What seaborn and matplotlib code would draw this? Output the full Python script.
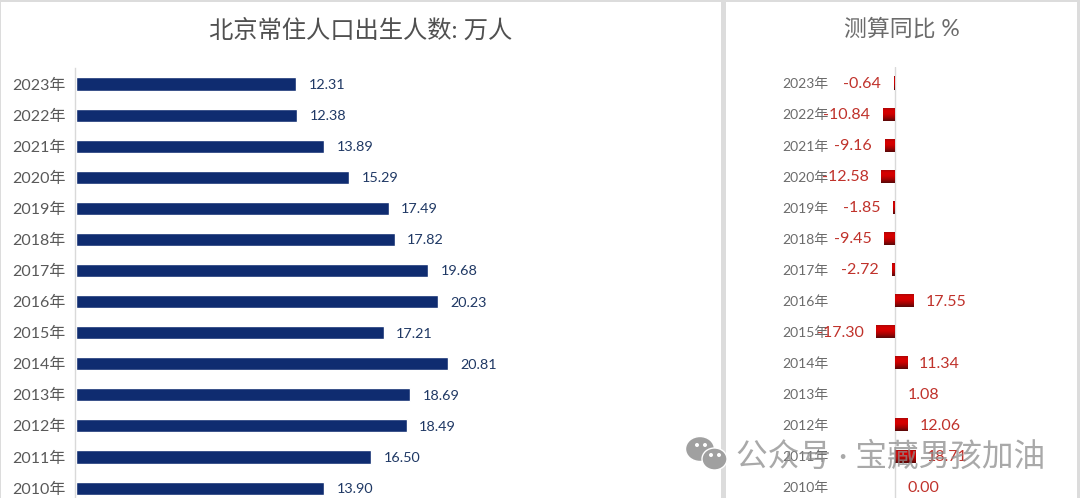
import numpy as np
import pandas as pd
import matplotlib
matplotlib.use("Agg")
import matplotlib.pyplot as plt
from matplotlib.patches import Rectangle, Ellipse
from matplotlib.colors import LinearSegmentedColormap
import seaborn as sns

years = ["2023年", "2022年", "2021年", "2020年", "2019年", "2018年", "2017年",
         "2016年", "2015年", "2014年", "2013年", "2012年", "2011年", "2010年"]
births = [12.31, 12.38, 13.89, 15.29, 17.49, 17.82, 19.68,
          20.23, 17.21, 20.81, 18.69, 18.49, 16.50, 13.90]
yoy = [-0.64, -10.84, -9.16, -12.58, -1.85, -9.45, -2.72,
       17.55, -17.30, 11.34, 1.08, 12.06, 18.71, 0.00]

W, H = 1080, 498

sns.set_theme(style="white")
plt.rcParams["font.family"] = ["Lato", "Noto Sans CJK SC", "DejaVu Sans"]


def box(x0, y0, x1, y1):
    # pixel box (y from the top) to figure fractions
    return [x0 / W, 1 - y1 / H, (x1 - x0) / W, (y1 - y0) / H]


fig = plt.figure(figsize=(W / 100, H / 100), dpi=100, facecolor="#dcdcdc")

# white cards behind the two charts
for x0, x1 in [(1, 721), (726, 1077)]:
    b = box(x0, 2, x1, H)
    fig.add_artist(Rectangle((b[0], b[1]), b[2], b[3], transform=fig.transFigure,
                             facecolor="white", edgecolor="none", zorder=-1))

df = pd.DataFrame({"year": years, "births": births, "yoy": yoy})

# left chart
ax1 = fig.add_axes(box(75, 68, 721, H))
ax1.patch.set_alpha(0)
sns.barplot(data=df, y="year", x="births", color="#0f2c70", width=0.42,
            saturation=1, ax=ax1)
ax1.set_xlim(-0.03, 646 / 17.92)
ax1.set_ylim(13.32, -0.515)
labels1 = ax1.bar_label(ax1.containers[0], fmt="%.2f", padding=9, fontsize=10.4, color="#1f3864")
for t in labels1:
    t.xyann = (t.xyann[0], t.xyann[1] - 0.7)
ax1.set_xlabel("")
ax1.set_ylabel("")
ax1.set_xticks([])
ax1.tick_params(axis="y", length=0, pad=7, labelsize=11.5, labelcolor="#595959")
sns.despine(ax=ax1, left=False, bottom=True)
ax1.spines["left"].set_color("#d9d9d9")
ax1.spines["left"].set_linewidth(1)

# right chart, year labels sit left of the plot area
ax2 = fig.add_axes(box(830, 67, 1077, H))
ax2.patch.set_alpha(0)
sns.barplot(data=df, y="year", x="yoy", color="#c00000", width=0.42,
            saturation=1, ax=ax2)
xlim2 = (-64.5 / 1.07, 182.5 / 1.07)
ylim2 = (13.35, -0.515)
ax2.set_xlim(*xlim2)
ax2.set_ylim(*ylim2)
labels2 = ax2.bar_label(ax2.containers[0], fmt="%.2f", padding=9, fontsize=11.5, color="#c0322b")
for t in labels2:
    t.xyann = (t.xyann[0], t.xyann[1] - 0.7)
ax2.axvline(0, color="#d9d9d9", lw=1, zorder=1)
ax2.set_xlabel("")
ax2.set_ylabel("")
ax2.set_xticks([])
ax2.tick_params(axis="y", length=0, pad=1, labelsize=10, labelcolor="#6b6b6b")
sns.despine(ax=ax2, left=True, bottom=True)

# gradient fill for the red bars
red_grad = LinearSegmentedColormap.from_list(
    "red_grad", ["#a00808", "#d80000", "#d00000", "#a00303", "#5a0808"])
grad = np.linspace(0, 1, 32).reshape(-1, 1)
for bar in ax2.containers[0]:
    w = bar.get_width()
    if w == 0:
        continue
    # the 2013 bar does not show in the original
    if 0 < w < 2:
        bar.set_visible(False)
        continue
    bx0, by0 = bar.get_xy()
    im = ax2.imshow(grad, cmap=red_grad, aspect="auto", zorder=2, interpolation="bilinear",
                    extent=[bx0, bx0 + w, by0 + bar.get_height(), by0])
    im.set_clip_path(bar)
ax2.set_xlim(*xlim2)
ax2.set_ylim(*ylim2)

# titles
fig.text(360.5 / W, 1 - 30 / H, "北京常住人口出生人数: 万人", ha="center", va="center",
         fontsize=17.5, color="#505050")
fig.text(902 / W, 1 - 29 / H, "测算同比 %", ha="center", va="center",
         fontsize=16.5, color="#6b6b6b")

# watermark
fig.text(735.5 / W, 1 - 457 / H, "公众号 · 宝藏男孩加油", ha="left", va="center",
         fontsize=22.8, color="#8c8c8c", alpha=0.75, zorder=10)
for cx, cy, ew, eh in [(700, 449, 29, 25), (714.5, 459, 25, 22)]:
    fig.add_artist(Ellipse((cx / W, 1 - cy / H), ew / W, eh / H, transform=fig.transFigure,
                           facecolor="#a0a0a0", edgecolor="white", lw=1, zorder=10))
for cx, cy in [(697, 445), (705, 445), (711, 455), (719, 455)]:
    fig.add_artist(Ellipse((cx / W, 1 - cy / H), 4 / W, 4 / H, transform=fig.transFigure,
                           facecolor="white", edgecolor="none", zorder=11))

fig.savefig("out.png", dpi=100, facecolor=fig.get_facecolor())
